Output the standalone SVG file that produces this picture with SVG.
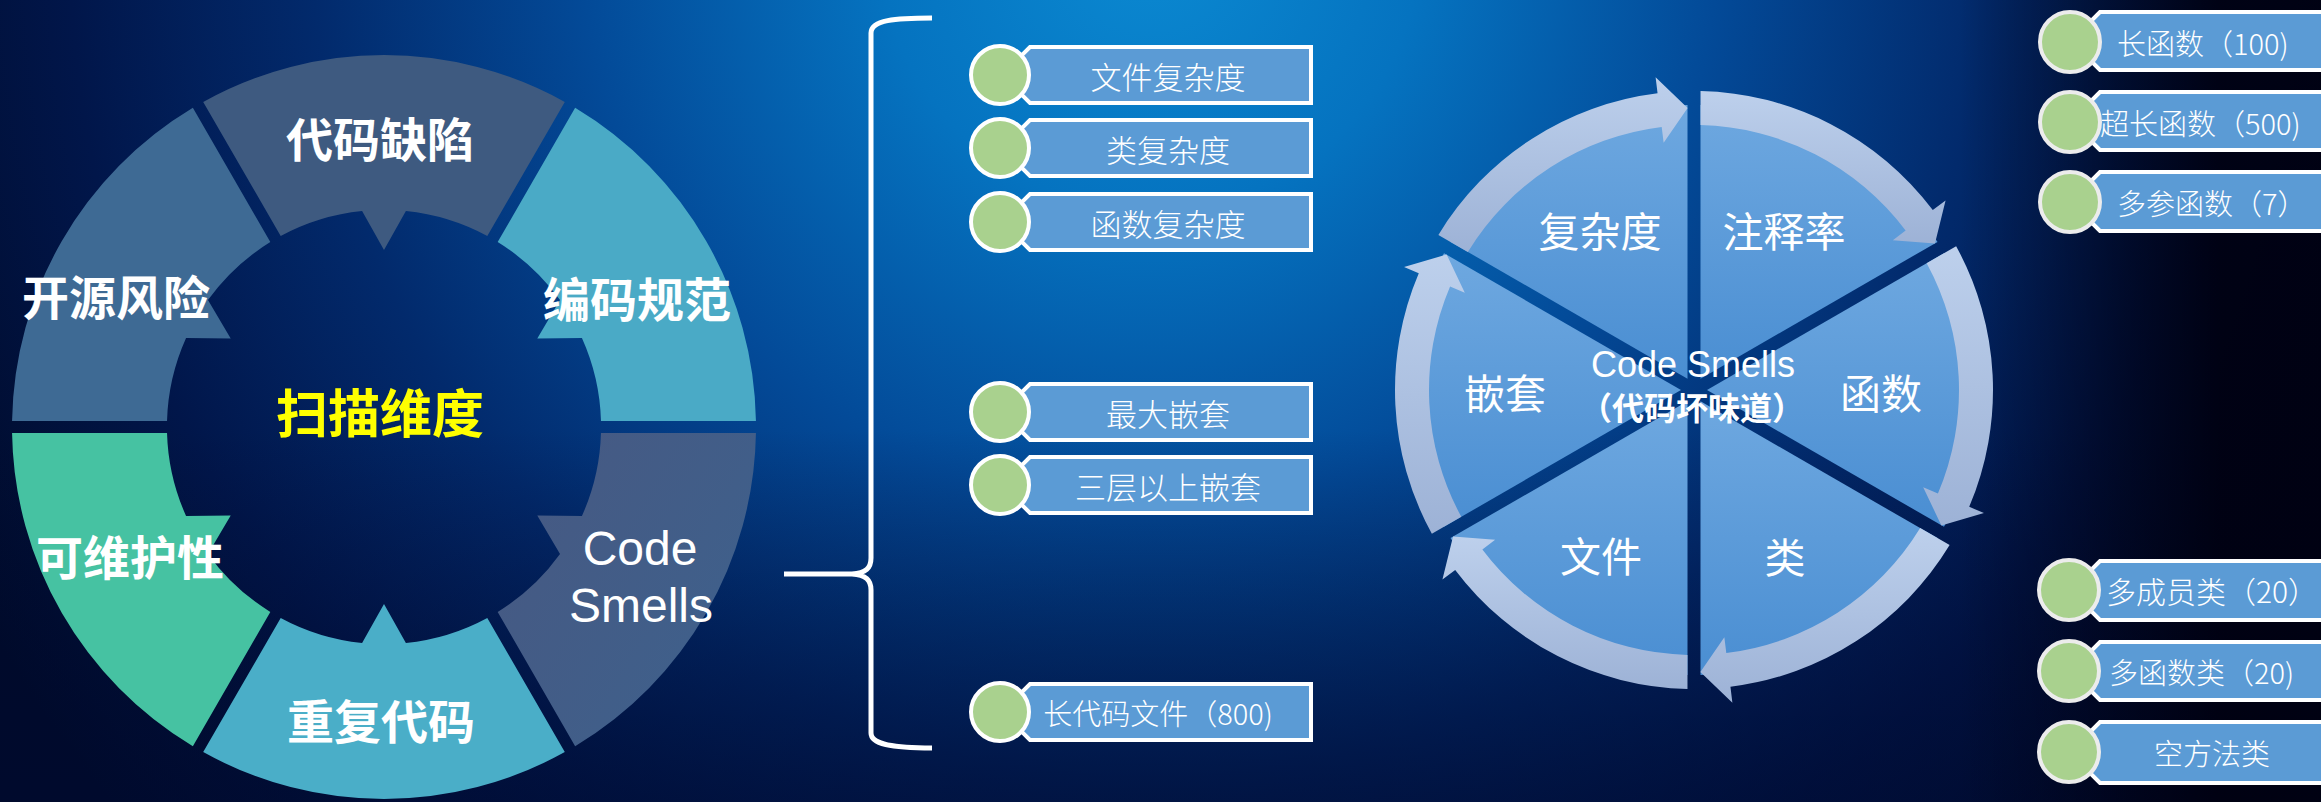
<svg xmlns="http://www.w3.org/2000/svg" xmlns:xlink="http://www.w3.org/1999/xlink" width="2321" height="802" viewBox="0 0 2321 802">
<defs>
<radialGradient id="bg" cx="1150" cy="-60" r="1350" gradientUnits="userSpaceOnUse">
<stop offset="0" stop-color="#0b8ad2"/>
<stop offset="0.2" stop-color="#0573c0"/>
<stop offset="0.42" stop-color="#034a98"/>
<stop offset="0.62" stop-color="#022a6c"/>
<stop offset="0.8" stop-color="#01164a"/>
<stop offset="1" stop-color="#000a28"/>
</radialGradient>
<linearGradient id="rightDark" x1="1960" y1="0" x2="2220" y2="0" gradientUnits="userSpaceOnUse">
<stop offset="0" stop-color="#000010" stop-opacity="0"/>
<stop offset="1" stop-color="#000010" stop-opacity="0.92"/>
</linearGradient>
<linearGradient id="botDark" x1="0" y1="430" x2="0" y2="802" gradientUnits="userSpaceOnUse">
<stop offset="0" stop-color="#000a30" stop-opacity="0"/>
<stop offset="1" stop-color="#000a30" stop-opacity="0.65"/>
</linearGradient>
<linearGradient id="sectorFill" x1="0" y1="0" x2="0" y2="1">
<stop offset="0" stop-color="#6ea8e0"/>
<stop offset="1" stop-color="#4a8ed2"/>
</linearGradient>
<linearGradient id="bandFill" x1="0" y1="0" x2="0" y2="1">
<stop offset="0" stop-color="#bdd0ec"/>
<stop offset="1" stop-color="#9db2d6"/>
</linearGradient>
<linearGradient id="smellSeg" x1="0" y1="0" x2="0" y2="1">
<stop offset="0" stop-color="#405f8a"/>
<stop offset="1" stop-color="#455a84"/>
</linearGradient>
<path id="seg" d="M203.2,101.9 A372,372 0 0 1 564.8,101.9 L487.3,236.1 A217,217 0 0 0 405.9,211.1 L384,250 L362.1,211.1 A217,217 0 0 0 280.7,236.1 Z"/>
<style>
.ringlbl{font-family:"Noto Sans CJK SC","Noto Sans",sans-serif;font-weight:bold;font-size:47px;fill:#ffffff;text-anchor:middle;dominant-baseline:central}
.en{font-family:"Liberation Sans",Arial,sans-serif;fill:#ffffff;text-anchor:middle}
.wlbl{font-family:"Noto Sans CJK SC",sans-serif;font-size:41px;fill:#ffffff;text-anchor:middle;dominant-baseline:central}
.item{font-family:"Noto Sans CJK SC",sans-serif;font-weight:300;fill:#ffffff;dominant-baseline:central}
.box{fill:#5b9bd5;stroke:#ffffff;stroke-width:4}
.dotL{fill:#a9d18e;stroke:#ffffff;stroke-width:4}
.dotR{fill:#a9d18e;stroke:#ececec;stroke-width:4}
.sector{fill:url(#sectorFill)}
.band{fill:url(#bandFill)}
</style>
</defs>

<rect x="0" y="0" width="2321" height="802" fill="url(#bg)"/>
<rect x="0" y="0" width="2321" height="802" fill="url(#botDark)"/>
<rect x="1960" y="0" width="361" height="802" fill="url(#rightDark)"/>

<!-- Left ring: scan dimensions -->
<g id="ring">
<g id="seg-defects"><use xlink:href="#seg" fill="#3e5a80"/><text class="ringlbl" x="380" y="136">代码缺陷</text></g>
<g id="seg-style"><use xlink:href="#seg" transform="rotate(60 384 427)" fill="#4aaac6"/><text class="ringlbl" x="637" y="296">编码规范</text></g>
<g id="seg-smells"><use xlink:href="#seg" transform="rotate(120 384 427)" fill="url(#smellSeg)"/>
<text class="en" x="640" y="565" font-size="48">Code</text><text class="en" x="641" y="622" font-size="48">Smells</text></g>
<g id="seg-dup"><use xlink:href="#seg" transform="rotate(180 384 427)" fill="#4aaec8"/><text class="ringlbl" x="381" y="718">重复代码</text></g>
<g id="seg-maint"><use xlink:href="#seg" transform="rotate(240 384 427)" fill="#46c2a2"/><text class="ringlbl" x="130" y="554">可维护性</text></g>
<g id="seg-oss"><use xlink:href="#seg" transform="rotate(300 384 427)" fill="#3e6a94"/><text class="ringlbl" x="116" y="294">开源风险</text></g>
<g id="ring-center"><text class="ringlbl" x="380" y="410" style="fill:#ffff00;font-size:52px">扫描维度</text></g>
</g>

<!-- connectors -->
<g id="connectors">
<path d="M932,18 C895,18 871,20 871,33 L871,558 C871,568 866,573 852,574 L784,574 M852,574 C866,575 871,580 871,590 L871,733 C871,744 890,748 932,748" fill="none" stroke="#ffffff" stroke-width="5" stroke-linecap="butt"/>
</g>

<!-- Left list -->
<g id="item-file-complexity">
<path class="box" d="M1030,47 L1311,47 L1311,103 L1030,103 L1012,85 L1012,65 Z"/>
<text class="item" x="1168" y="75" font-size="31" text-anchor="middle">文件复杂度</text>
<circle class="dotL" cx="1000" cy="75" r="29"/>
</g>
<g id="item-class-complexity">
<path class="box" d="M1030,120 L1311,120 L1311,176 L1030,176 L1012,158 L1012,138 Z"/>
<text class="item" x="1168" y="148" font-size="31" text-anchor="middle">类复杂度</text>
<circle class="dotL" cx="1000" cy="148" r="29"/>
</g>
<g id="item-func-complexity">
<path class="box" d="M1030,194 L1311,194 L1311,250 L1030,250 L1012,232 L1012,212 Z"/>
<text class="item" x="1168" y="222" font-size="31" text-anchor="middle">函数复杂度</text>
<circle class="dotL" cx="1000" cy="222" r="29"/>
</g>
<g id="item-max-nesting">
<path class="box" d="M1030,384 L1311,384 L1311,440 L1030,440 L1012,422 L1012,402 Z"/>
<text class="item" x="1168" y="412" font-size="31" text-anchor="middle">最大嵌套</text>
<circle class="dotL" cx="1000" cy="412" r="29"/>
</g>
<g id="item-deep-nesting">
<path class="box" d="M1030,457 L1311,457 L1311,513 L1030,513 L1012,495 L1012,475 Z"/>
<text class="item" x="1168" y="485" font-size="31" text-anchor="middle">三层以上嵌套</text>
<circle class="dotL" cx="1000" cy="485" r="29"/>
</g>
<g id="item-long-file">
<path class="box" d="M1030,684 L1311,684 L1311,740 L1030,740 L1012,722 L1012,702 Z"/>
<text class="item" x="1158" y="712" font-size="29" text-anchor="middle">长代码文件（800)</text>
<circle class="dotL" cx="1000" cy="712" r="29"/>
</g>

<!-- Code smells wheel -->
<g id="wheel">
<g id="w-complexity">
<path class="sector" d="M1687.5,378.7 L1687.5,105.1 A285,285 0 0 0 1450.5,241.9 Z"/>
<path class="band" d="M1438.38,234.89 A299,299 0 0 1 1657.56,93.23 L1655.61,77.35 L1687.6,108.07 L1663.65,142.86 L1661.7,126.97 A265,265 0 0 0 1467.84,251.89 Z"/>
<text class="wlbl" x="1600" y="229">复杂度</text>
</g>
<g id="w-comment">
<path class="sector" d="M1700.5,378.7 L1937.5,241.9 A285,285 0 0 0 1700.5,105.1 Z"/>
<path class="band" d="M1700.52,91.07 A299,299 0 0 1 1932.79,210.06 L1945.57,200.43 L1934.96,243.49 L1892.86,240.15 L1905.64,230.52 A265,265 0 0 0 1700.52,125.08 Z"/>
<text class="wlbl" x="1784" y="229">注释率</text>
</g>
<g id="w-function">
<path class="sector" d="M1707,390 L1944,526.8 A285,285 0 0 0 1944,253.2 Z"/>
<path class="band" d="M1956.14,246.18 A299,299 0 0 1 1969.23,506.83 L1983.96,513.08 L1941.36,525.42 L1923.2,487.29 L1937.93,493.54 A265,265 0 0 0 1926.69,263.18 Z"/>
<text class="wlbl" x="1881" y="391">函数</text>
</g>
<g id="w-class">
<path class="sector" d="M1700.5,401.3 L1700.5,674.9 A285,285 0 0 0 1937.5,538.1 Z"/>
<path class="band" d="M1949.62,545.11 A299,299 0 0 1 1730.44,686.77 L1732.39,702.65 L1700.4,671.93 L1724.35,637.14 L1726.3,653.03 A265,265 0 0 0 1920.17,528.11 Z"/>
<text class="wlbl" x="1785" y="555">类</text>
</g>
<g id="w-file">
<path class="sector" d="M1687.5,401.3 L1450.5,538.1 A285,285 0 0 0 1687.5,674.9 Z"/>
<path class="band" d="M1687.48,688.93 A299,299 0 0 1 1455.21,569.94 L1442.43,579.57 L1453.04,536.51 L1495.14,539.85 L1482.36,549.48 A265,265 0 0 0 1687.48,654.92 Z"/>
<text class="wlbl" x="1601" y="554">文件</text>
</g>
<g id="w-nesting">
<path class="sector" d="M1681,390 L1444,253.2 A285,285 0 0 0 1444,526.8 Z"/>
<path class="band" d="M1431.86,533.82 A299,299 0 0 1 1418.77,273.17 L1404.04,266.92 L1446.64,254.58 L1464.8,292.71 L1450.07,286.46 A265,265 0 0 0 1461.31,516.82 Z"/>
<text class="wlbl" x="1505" y="391">嵌套</text>
</g>
<g id="w-center">
<text class="en" x="1693" y="377" font-size="36">Code Smells</text>
<text class="wlbl" x="1692" y="406" style="font-size:32px;font-weight:bold">（代码坏味道）</text>
</g>
</g>

<!-- Right list: functions -->
<g id="item-long-func">
<path class="box" d="M2100,12 L2335,12 L2335,70 L2100,70 L2082,52 L2082,30 Z"/>
<text class="item" x="2117" y="42" font-size="29">长函数（100)</text>
<circle class="dotR" cx="2070" cy="42" r="30"/>
</g>
<g id="item-very-long-func">
<path class="box" d="M2100,92 L2335,92 L2335,150 L2100,150 L2082,132 L2082,110 Z"/>
<text class="item" x="2100" y="122" font-size="29">超长函数（500)</text>
<circle class="dotR" cx="2070" cy="122" r="30"/>
</g>
<g id="item-many-params">
<path class="box" d="M2100,172 L2335,172 L2335,231 L2100,231 L2082,213 L2082,190 Z"/>
<text class="item" x="2117" y="202" font-size="29">多参函数（7）</text>
<circle class="dotR" cx="2070" cy="202" r="30"/>
</g>

<!-- Right list: classes -->
<g id="item-many-members">
<path class="box" d="M2100,561 L2335,561 L2335,620 L2100,620 L2082,602 L2082,579 Z"/>
<text class="item" x="2106" y="590" font-size="30">多成员类（20）</text>
<circle class="dotR" cx="2069" cy="590" r="30"/>
</g>
<g id="item-many-methods">
<path class="box" d="M2100,642 L2335,642 L2335,700 L2100,700 L2082,682 L2082,660 Z"/>
<text class="item" x="2109" y="671" font-size="29">多函数类（20)</text>
<circle class="dotR" cx="2069" cy="671" r="30"/>
</g>
<g id="item-empty-class">
<path class="box" d="M2100,722 L2335,722 L2335,783 L2100,783 L2082,765 L2082,740 Z"/>
<text class="item" x="2212" y="752" font-size="29" text-anchor="middle">空方法类</text>
<circle class="dotR" cx="2069" cy="752" r="30"/>
</g>
</svg>
